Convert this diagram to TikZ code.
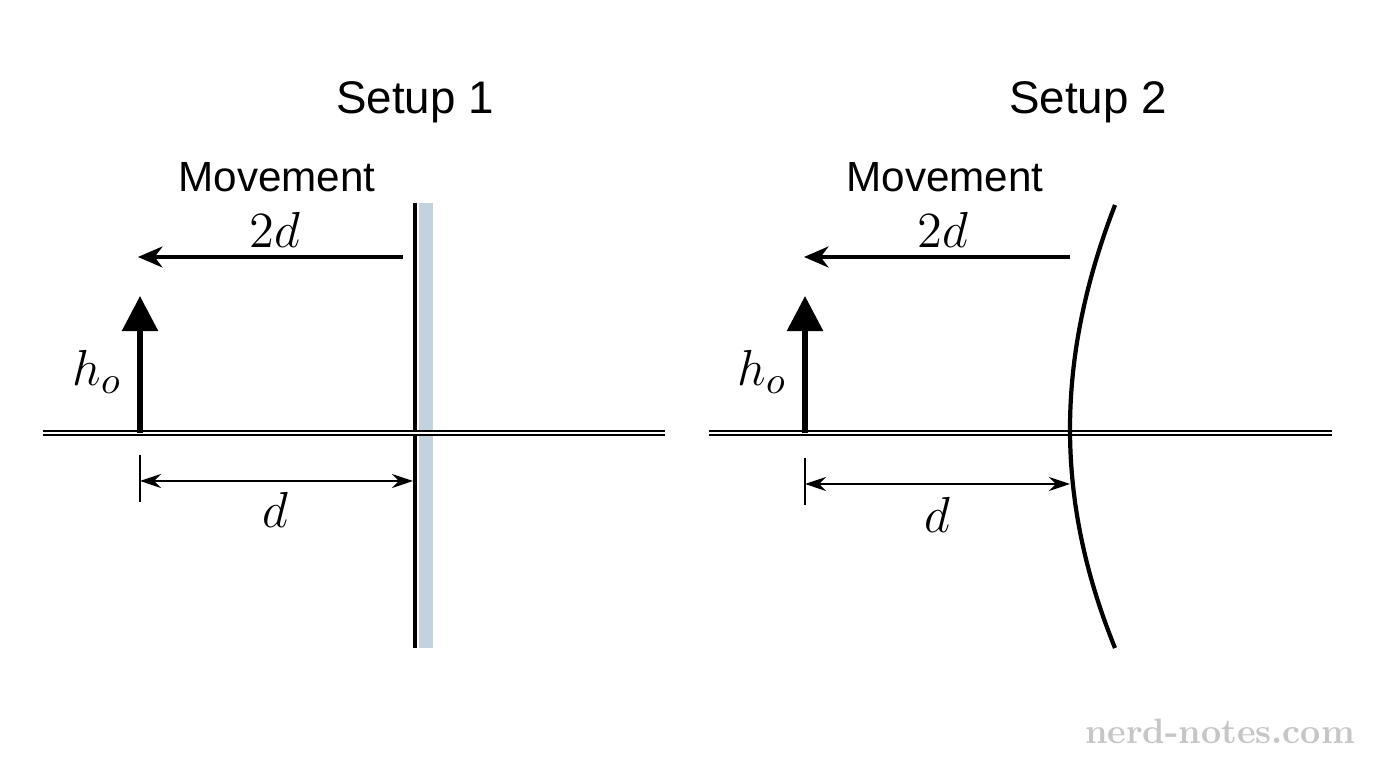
\documentclass[tikz,border=0pt]{standalone}
\usepackage{fontspec}
\setsansfont{Liberation Sans}
\usetikzlibrary{arrows.meta,positioning}
\definecolor{glassColor}{HTML}{C2D3DF}
\tikzset{
	title/.style={font=\sffamily\fontsize{13}{15}\selectfont},
	lab/.style={font=\sffamily\fontsize{12}{14}\selectfont},
	mlab/.style={font=\fontsize{15}{17}\selectfont},
	move/.style={-{Stealth[length=7pt,width=6pt]},line width=0.9pt},
	dim/.style={{Stealth[length=6pt,width=4pt]}-{Stealth[length=6pt,width=4pt]},line width=0.7pt},
	obj/.style={-{Triangle[length=10pt,width=10pt]},line width=1.6pt},
	axis/.style={double,line width=0.4pt,double distance=0.8pt}
}
\begin{document}
\begin{tikzpicture}[x=0.01cm,y=-0.01cm]
\useasboundingbox (0,0) rectangle (1376,768);
% setup 1
\node[title] (t1) at (415,102) {Setup 1};
\node[lab] (m1) at (277,177) {Movement};
\fill[glassColor] (419,203) rectangle (433,648);
\draw[line width=1.2pt] (415,203) coordinate (ma1) -- (415,648) coordinate (mb1);
\draw[axis] (43,433) coordinate (al1) -- (665,433) coordinate (ar1);
\coordinate (s1) at (403,257);
\coordinate (e1) at (138,257);
\draw[move] (s1) -- (e1);
\node[mlab] (l1) at (275,230) {$2d$};
\coordinate (o1) at (140,433);
\coordinate (ot1) at (140,296);
\draw[obj] (o1) -- (ot1);
\node[mlab] (h1) at (97,372) {$h_o$};
\draw[line width=0.5pt] (140,455) coordinate (k1) -- (140,502);
\coordinate (da1) at (140,481);
\coordinate (db1) at (413,481);
\draw[dim] (da1) -- (db1);
\node[mlab] (d1) at (275,510) {$d$};
% setup 2
\node[title] (t2) at (1088,102) {Setup 2};
\node[lab] (m2) at (945,177) {Movement};
\draw[axis] (709,433) coordinate (al2) -- (1332,433) coordinate (ar2);
\coordinate (ma2) at (1115,205);
\coordinate (mb2) at (1115,648);
\draw[line width=1.2pt] (ma2) .. controls (1055,360) and (1055,500) .. (mb2);
\coordinate (s2) at (1070,257);
\coordinate (e2) at (804,257);
\draw[move] (s2) -- (e2);
\node[mlab] (l2) at (943,230) {$2d$};
\coordinate (o2) at (805,433);
\coordinate (ot2) at (805,296);
\draw[obj] (o2) -- (ot2);
\node[mlab] (h2) at (762,372) {$h_o$};
\draw[line width=0.5pt] (805,458) coordinate (k2) -- (805,505);
\coordinate (da2) at (805,484);
\coordinate (db2) at (1070,484);
\draw[dim] (da2) -- (db2);
\node[mlab] (d2) at (937,515) {$d$};
% watermark
\node[font=\fontsize{10}{12}\selectfont\bfseries, text=gray!45] (wm) at (1220,731) {nerd-notes.com};
\end{tikzpicture}
\end{document}
